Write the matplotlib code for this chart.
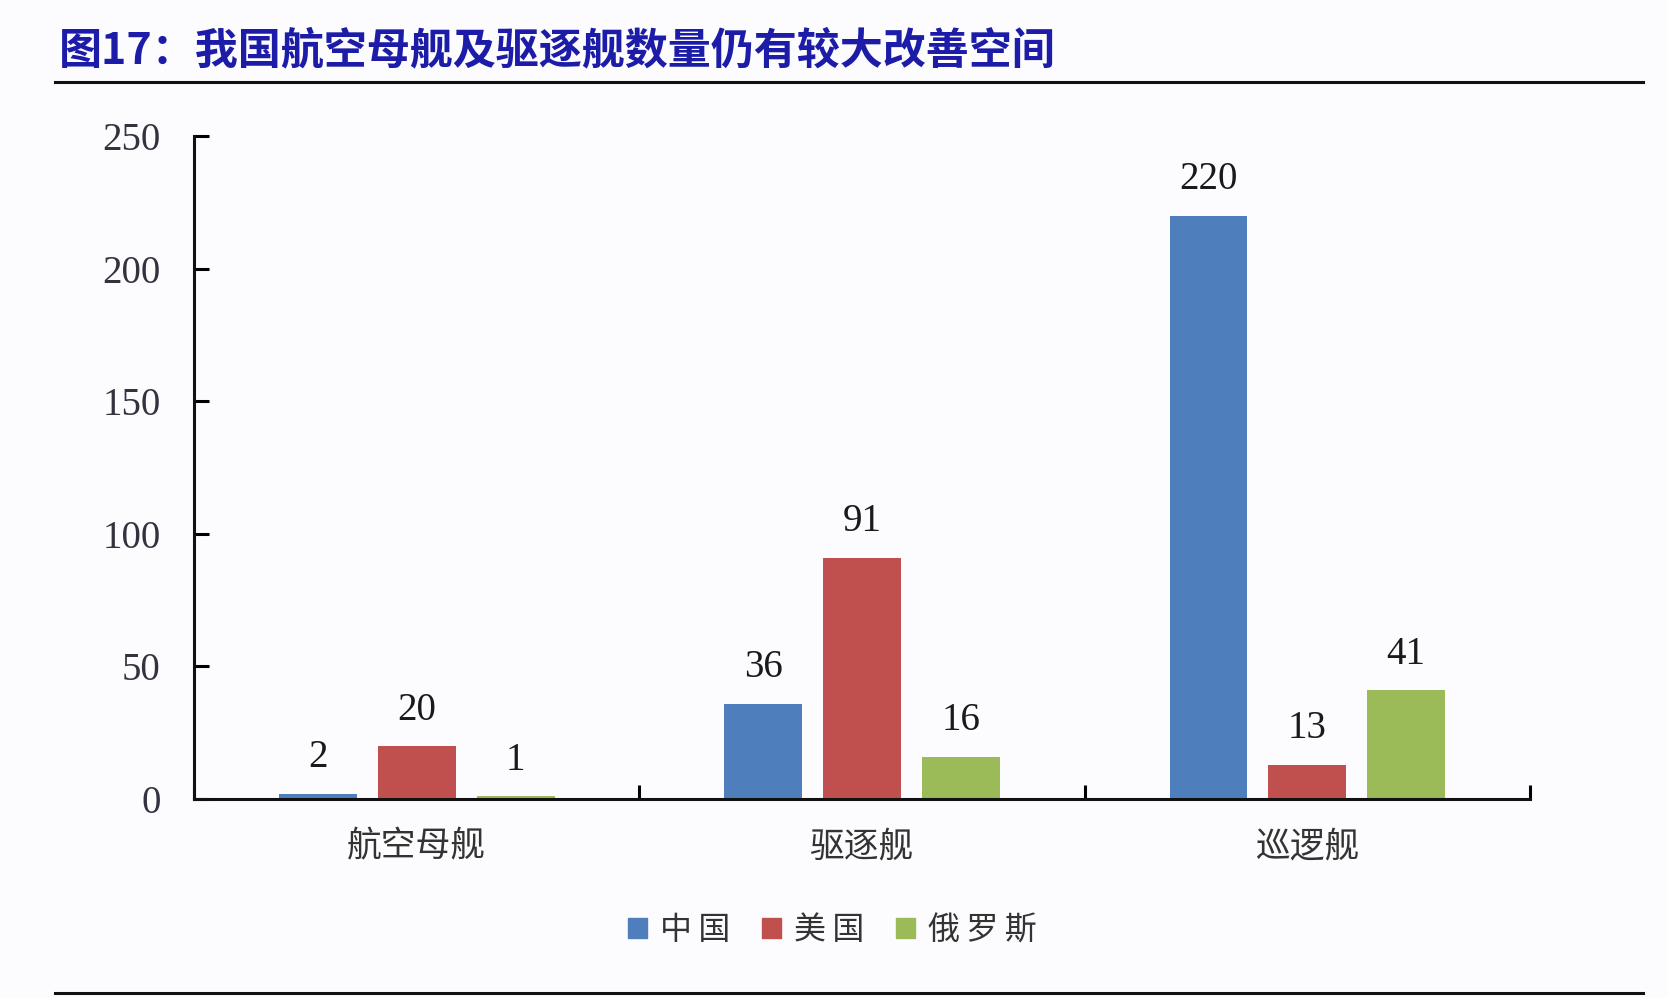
import numpy as np
import matplotlib.pyplot as plt
from matplotlib.patches import Patch

# data
categories = ["航空母舰", "驱逐舰", "巡逻舰"]
countries = ["中国", "美国", "俄罗斯"]
china = [2, 36, 220]
usa = [20, 91, 13]
russia = [1, 16, 41]
colors = ["#4F7EBC", "#C0504D", "#9BBB59"]
yticks = [0, 50, 100, 150, 200, 250]

cjk = ["Noto Sans CJK SC", "DejaVu Sans"]
serif = ["Liberation Serif", "DejaVu Serif"]

fig = plt.figure(figsize=(16.68, 9.98), dpi=100, facecolor="#fcfcfe")
ax = fig.add_axes([0.1163, 0.1994, 0.801, 0.6643])
ax.set_facecolor("#fcfcfe")

x = np.arange(len(categories))
width = 0.175
step = 0.222
for i, (vals, c) in enumerate(zip([china, usa, russia], colors)):
    pos = x + (i - 1) * step
    ax.bar(pos, vals, width=width, color=c, zorder=2)
    for px, v in zip(pos, vals):
        ax.annotate(str(v), (px, v), xytext=(0, 19), textcoords="offset points",
                    ha="center", va="baseline", fontsize=28, family=serif,
                    color="#1a1a1a")

ax.set_xlim(-0.5, 2.5)
ax.set_ylim(0, 250)
ax.set_yticks(yticks)
ax.set_yticklabels([str(t) for t in yticks], family=serif, fontsize=28, color="#333340")
ax.tick_params(axis="y", direction="in", length=11, width=2.2, pad=24)

# ticks at group boundaries, labels in the middle
ax.set_xticks([-0.5, 0.5, 1.5, 2.5])
ax.set_xticklabels([])
ax.tick_params(axis="x", which="major", direction="in", length=10, width=2.2)
ax.set_xticks(x, minor=True)
ax.set_xticklabels(categories, minor=True, family=cjk, fontsize=25, color="#333333")
ax.tick_params(axis="x", which="minor", length=0, pad=22)

for s in ["top", "right"]:
    ax.spines[s].set_visible(False)
for s in ["left", "bottom"]:
    ax.spines[s].set_linewidth(2.2)
    ax.spines[s].set_color("#111111")

# legend labels are letter-spaced in the reference
handles = [Patch(color=c) for c in colors]
spaced = ["\u2009".join(name) for name in countries]
fig.legend(handles, spaced, loc="center", bbox_to_anchor=(0.499, 0.068), ncol=3,
           frameon=False, prop={"family": cjk, "size": 23},
           handlelength=0.6, handleheight=0.6, handletextpad=0.4, columnspacing=1.0,
           labelcolor="#333333")

# title and rule lines
fig.text(0.035, 0.95, "图17：我国航空母舰及驱逐舰数量仍有较大改善空间", family=cjk,
         fontsize=31, fontweight="bold", color="#1c1ca8", va="center", ha="left")
fig.add_artist(plt.Line2D([0.033, 0.985], [0.918, 0.918], color="#111111", lw=2.2))
fig.add_artist(plt.Line2D([0.033, 0.985], [0.005, 0.005], color="#111111", lw=2.2))

fig.savefig("out.png", dpi=100, facecolor=fig.get_facecolor())
